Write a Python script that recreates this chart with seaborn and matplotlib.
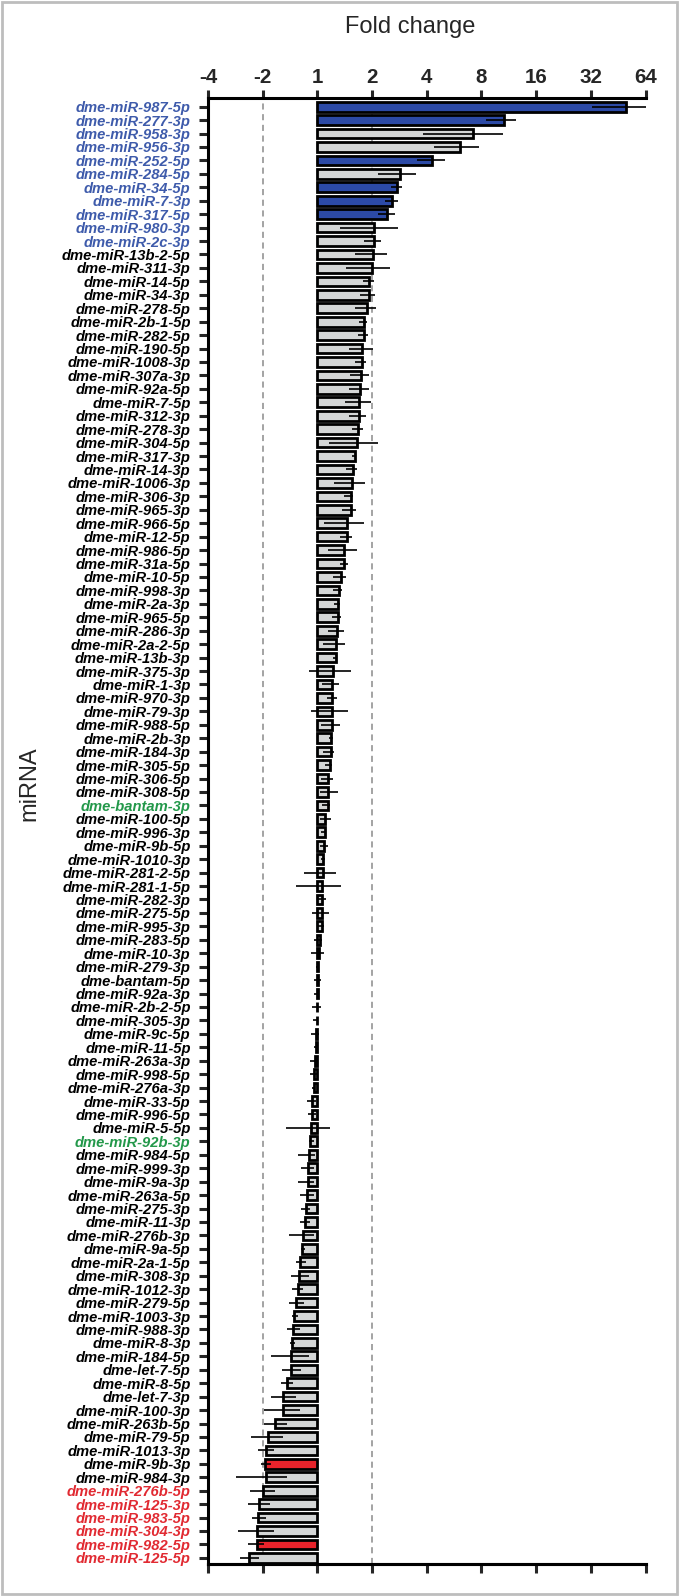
import matplotlib
matplotlib.use('Agg')
import matplotlib.pyplot as plt
import numpy as np
import seaborn as sns
from matplotlib.patches import Rectangle

# miRNA names, top to bottom
mirnas = [
    'dme-miR-987-5p', 'dme-miR-277-3p', 'dme-miR-958-3p', 'dme-miR-956-3p', 'dme-miR-252-5p',
    'dme-miR-284-5p', 'dme-miR-34-5p', 'dme-miR-7-3p', 'dme-miR-317-5p', 'dme-miR-980-3p',
    'dme-miR-2c-3p', 'dme-miR-13b-2-5p', 'dme-miR-311-3p', 'dme-miR-14-5p', 'dme-miR-34-3p',
    'dme-miR-278-5p', 'dme-miR-2b-1-5p', 'dme-miR-282-5p', 'dme-miR-190-5p', 'dme-miR-1008-3p',
    'dme-miR-307a-3p', 'dme-miR-92a-5p', 'dme-miR-7-5p', 'dme-miR-312-3p', 'dme-miR-278-3p',
    'dme-miR-304-5p', 'dme-miR-317-3p', 'dme-miR-14-3p', 'dme-miR-1006-3p', 'dme-miR-306-3p',
    'dme-miR-965-3p', 'dme-miR-966-5p', 'dme-miR-12-5p', 'dme-miR-986-5p', 'dme-miR-31a-5p',
    'dme-miR-10-5p', 'dme-miR-998-3p', 'dme-miR-2a-3p', 'dme-miR-965-5p', 'dme-miR-286-3p',
    'dme-miR-2a-2-5p', 'dme-miR-13b-3p', 'dme-miR-375-3p', 'dme-miR-1-3p', 'dme-miR-970-3p',
    'dme-miR-79-3p', 'dme-miR-988-5p', 'dme-miR-2b-3p', 'dme-miR-184-3p', 'dme-miR-305-5p',
    'dme-miR-306-5p', 'dme-miR-308-5p', 'dme-bantam-3p', 'dme-miR-100-5p', 'dme-miR-996-3p',
    'dme-miR-9b-5p', 'dme-miR-1010-3p', 'dme-miR-281-2-5p', 'dme-miR-281-1-5p', 'dme-miR-282-3p',
    'dme-miR-275-5p', 'dme-miR-995-3p', 'dme-miR-283-5p', 'dme-miR-10-3p', 'dme-miR-279-3p',
    'dme-bantam-5p', 'dme-miR-92a-3p', 'dme-miR-2b-2-5p', 'dme-miR-305-3p', 'dme-miR-9c-5p',
    'dme-miR-11-5p', 'dme-miR-263a-3p', 'dme-miR-998-5p', 'dme-miR-276a-3p', 'dme-miR-33-5p',
    'dme-miR-996-5p', 'dme-miR-5-5p', 'dme-miR-92b-3p', 'dme-miR-984-5p', 'dme-miR-999-3p',
    'dme-miR-9a-3p', 'dme-miR-263a-5p', 'dme-miR-275-3p', 'dme-miR-11-3p', 'dme-miR-276b-3p',
    'dme-miR-9a-5p', 'dme-miR-2a-1-5p', 'dme-miR-308-3p', 'dme-miR-1012-3p', 'dme-miR-279-5p',
    'dme-miR-1003-3p', 'dme-miR-988-3p', 'dme-miR-8-3p', 'dme-miR-184-5p', 'dme-let-7-5p',
    'dme-miR-8-5p', 'dme-let-7-3p', 'dme-miR-100-3p', 'dme-miR-263b-5p', 'dme-miR-79-5p',
    'dme-miR-1013-3p', 'dme-miR-9b-3p', 'dme-miR-984-3p', 'dme-miR-276b-5p', 'dme-miR-125-3p',
    'dme-miR-983-5p', 'dme-miR-304-3p', 'dme-miR-982-5p', 'dme-miR-125-5p',
]

# log2 fold change (bar end)
log2_fc = [
    5.65, 3.41, 2.85, 2.60, 2.10, 1.51, 1.45, 1.37, 1.28, 1.03,
    1.03, 1.01, 0.99, 0.95, 0.94, 0.91, 0.85, 0.85, 0.82, 0.81,
    0.79, 0.78, 0.76, 0.76, 0.75, 0.73, 0.69, 0.65, 0.64, 0.61,
    0.61, 0.54, 0.54, 0.49, 0.49, 0.43, 0.40, 0.38, 0.37, 0.36,
    0.34, 0.34, 0.28, 0.27, 0.27, 0.27, 0.26, 0.25, 0.24, 0.23,
    0.19, 0.19, 0.19, 0.14, 0.14, 0.13, 0.11, 0.10, 0.09, 0.08,
    0.08, 0.08, 0.04, 0.03, 0.02, 0.01, 0.01, -0.01, -0.01, -0.02,
    -0.03, -0.04, -0.06, -0.07, -0.09, -0.10, -0.11, -0.14, -0.15, -0.17,
    -0.17, -0.19, -0.21, -0.23, -0.27, -0.28, -0.31, -0.34, -0.36, -0.40,
    -0.42, -0.45, -0.46, -0.48, -0.48, -0.56, -0.62, -0.62, -0.77, -0.91,
    -0.94, -0.96, -0.94, -1.00, -1.06, -1.09, -1.10, -1.11, -1.25,
]

# error bar ends (log2 units)
err_low = [
    5.03, 3.09, 1.94, 2.13, 1.82, 1.10, 1.34, 1.24, 1.10, 0.42,
    0.86, 0.69, 0.53, 0.84, 0.78, 0.69, 0.76, 0.74, 0.57, 0.69,
    0.59, 0.58, 0.50, 0.57, 0.63, 0.21, 0.63, 0.52, 0.30, 0.49,
    0.45, 0.13, 0.42, 0.19, 0.41, 0.28, 0.29, 0.31, 0.27, 0.20,
    0.10, 0.28, -0.16, 0.09, 0.17, -0.12, 0.07, 0.21, 0.10, 0.14,
    0.07, 0.05, 0.09, 0.05, 0.07, 0.05, 0.06, -0.24, -0.39, 0.00,
    -0.10, 0.00, -0.06, -0.12, -0.02, -0.07, -0.06, -0.10, -0.08, -0.12,
    -0.07, -0.13, -0.13, -0.10, -0.19, -0.17, -0.57, -0.15, -0.35, -0.30,
    -0.36, -0.31, -0.30, -0.32, -0.52, -0.30, -0.39, -0.48, -0.47, -0.52,
    -0.47, -0.55, -0.50, -0.84, -0.64, -0.66, -0.85, -0.98, -0.98, -1.22,
    -1.08, -1.03, -1.49, -1.24, -1.26, -1.20, -1.45, -1.26, -1.42,
]
err_high = [
    6.01, 3.64, 3.39, 2.95, 2.33, 1.80, 1.54, 1.48, 1.42, 1.47,
    1.17, 1.27, 1.32, 1.03, 1.06, 1.07, 0.91, 0.92, 1.01, 0.89,
    0.94, 0.94, 0.98, 0.89, 0.83, 1.10, 0.71, 0.73, 0.87, 0.66,
    0.71, 0.86, 0.63, 0.73, 0.56, 0.52, 0.45, 0.41, 0.43, 0.49,
    0.50, 0.36, 0.61, 0.40, 0.35, 0.56, 0.42, 0.28, 0.30, 0.26,
    0.29, 0.38, 0.23, 0.24, 0.16, 0.19, 0.14, 0.34, 0.43, 0.15,
    0.22, 0.13, 0.08, 0.13, 0.03, 0.06, 0.03, 0.06, 0.01, 0.03,
    0.00, 0.01, -0.01, -0.04, -0.02, -0.03, 0.23, -0.07, -0.05, -0.07,
    -0.07, -0.07, -0.13, -0.14, -0.07, -0.22, -0.21, -0.15, -0.26, -0.24,
    -0.35, -0.31, -0.41, -0.16, -0.30, -0.44, -0.40, -0.31, -0.56, -0.63,
    -0.79, -0.85, -0.55, -0.77, -0.87, -0.94, -0.79, -0.97, -1.06,
]

blue_bars = ['dme-miR-987-5p', 'dme-miR-277-3p', 'dme-miR-252-5p',
             'dme-miR-34-5p', 'dme-miR-7-3p', 'dme-miR-317-5p']
red_bars = ['dme-miR-9b-3p', 'dme-miR-982-5p']
blue_labels = mirnas[:11]
green_labels = ['dme-bantam-3p', 'dme-miR-92b-3p']
red_labels = mirnas[-6:]

tick_pos = [-2, -1, 0, 1, 2, 3, 4, 5, 6]
tick_labels = ['-4', '-2', '1', '2', '4', '8', '16', '32', '64']

BLUE, RED, GRAY = '#2c4aa6', '#e8232b', '#d4d6d6'
palette = {m: (BLUE if m in blue_bars else RED if m in red_bars else GRAY) for m in mirnas}

sns.set_style('white')
plt.rcParams['font.family'] = ['Liberation Sans', 'DejaVu Sans']

fig = plt.figure(figsize=(6.8, 15.96), dpi=100)
ax = fig.add_axes([0.3059, 0.0201, 0.6434, 0.9187])

sns.barplot(x=log2_fc, y=mirnas, hue=mirnas, palette=palette, legend=False, saturation=1,
            orient='h', width=0.72, edgecolor='black', linewidth=2.0, ax=ax)

fc = np.array(log2_fc)
ax.errorbar(fc, np.arange(len(mirnas)),
            xerr=[fc - np.array(err_low), np.array(err_high) - fc],
            fmt='none', ecolor='black', elinewidth=1.2, capsize=0, zorder=4)

for v in (-1, 1):
    ax.axvline(v, color='#8a8a8a', lw=1.1, ls=(0, (4, 3)), zorder=0)

ax.set_xlim(-2, 6)
ax.set_ylim(len(mirnas) - 0.55, -0.67)
ax.xaxis.tick_top()
ax.set_xticks(tick_pos)
ax.set_xticklabels(tick_labels, fontsize=14.8, fontweight='bold')
ax.xaxis.set_label_position('top')
ax.set_xlabel('Fold change', fontsize=17)
ax.xaxis.set_label_coords(0.462, 1.044)
ax.set_ylabel('miRNA', fontsize=17)
ax.yaxis.set_label_coords(-0.382, 0.532)

ax.tick_params(axis='x', which='both', top=True, bottom=False, length=6,
               width=2.2, pad=2, direction='out')
ax.tick_params(axis='y', length=6.5, width=2.2, pad=6, left=True)
for lab in ax.get_yticklabels():
    t = lab.get_text()
    lab.set_family(['Liberation Sans Narrow', 'Liberation Sans'])
    lab.set_fontsize(10.6)
    lab.set_fontweight('bold')
    lab.set_fontstyle('italic')
    if t in blue_labels:
        lab.set_color('#3e5bab')
    elif t in green_labels:
        lab.set_color('#23984a')
    elif t in red_labels:
        lab.set_color('#e12a32')
    else:
        lab.set_color('black')

# bottom ticks without labels
sec = ax.secondary_xaxis('bottom')
sec.set_xticks(tick_pos)
sec.set_xticklabels([])
sec.tick_params(length=6.5, width=2.2)
sec.spines['bottom'].set_linewidth(2.2)

for side in ('top', 'left', 'bottom'):
    ax.spines[side].set_linewidth(2.2)
    ax.spines[side].set_color('black')
ax.spines['right'].set_visible(False)

fig.patches.append(Rectangle((0.003, 0.0015), 0.993, 0.997, transform=fig.transFigure,
                             fill=False, edgecolor='#bdbdbd', lw=2))

fig.savefig('out.png', dpi=100)
